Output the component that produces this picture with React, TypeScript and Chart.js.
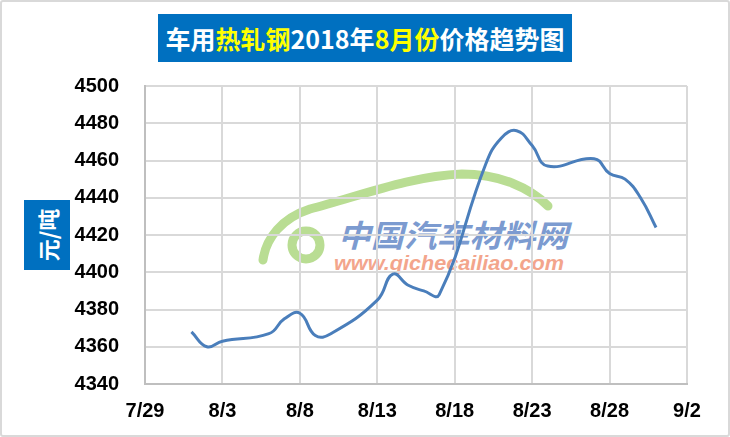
import React, { useEffect, useRef } from "react";
import { Chart, registerables } from "chart.js";

Chart.register(...registerables);

const dates = ["8/1","8/2","8/3","8/6","8/7","8/8","8/9","8/10","8/13","8/14","8/15","8/16","8/17","8/20","8/21","8/22","8/23","8/24","8/27","8/28","8/29","8/30","8/31"];
const prices = [4368,4360,4363,4367,4375,4378,4366,4367,4385,4399,4393,4390,4388,4458,4472,4476,4468,4457,4461,4453,4450,4440,4424];
const yTicks = [4340, 4500, 20];
const xRangeLabels = ["7/29", "9/2"];
const titleParts = [
  { text: "车用", yellow: false },
  { text: "热轧钢", yellow: true },
  { text: "2018年", yellow: false },
  { text: "8月份", yellow: true },
  { text: "价格趋势图", yellow: false },
];
const yAxisTitle = "元/吨";

const BASE = new Date(2018, 6, 29);
const DAY = 86400000;
function toDay(s: string): number {
  const [m, d] = s.split("/").map(Number);
  return Math.round((new Date(2018, m - 1, d).getTime() - BASE.getTime()) / DAY);
}
function fromDay(n: number): string {
  const dt = new Date(BASE.getTime() + n * DAY);
  return `${dt.getMonth() + 1}/${dt.getDate()}`;
}

export default function App() {
  const ref = useRef<HTMLCanvasElement>(null);
  useEffect(() => {
    const prev = document.body.style.margin;
    document.body.style.margin = "0";
    const ctx = ref.current!;
    const tickFont = { family: "'Liberation Sans', Arial, sans-serif", size: 20, weight: "bold" as const };
    const chart = new Chart(ctx, {
      type: "line",
      data: {
        datasets: [
          {
            data: dates.map((d, i) => ({ x: toDay(d), y: prices[i] })),
            borderColor: "#4a7ebb",
            borderWidth: 3,
            pointRadius: 0,
            tension: 0.45,
            fill: false,
          },
        ],
      },
      options: {
        animation: false,
        responsive: false,
        maintainAspectRatio: false,
        layout: { padding: { top: 86, right: 43, left: 0, bottom: 0 } },
        plugins: { legend: { display: false }, tooltip: { enabled: false } },
        scales: {
          x: {
            type: "linear",
            min: toDay(xRangeLabels[0]),
            max: toDay(xRangeLabels[1]),
            afterFit: (s: any) => { s.height = 437 - 384; },
            ticks: { stepSize: 5, callback: (v: any) => fromDay(Number(v)), color: "#000", font: tickFont, padding: 15, maxRotation: 0 },
            grid: { color: "#d9d9d9", lineWidth: 2, drawTicks: false },
            border: { color: "#bfbfbf", width: 2 },
          },
          y: {
            min: yTicks[0],
            max: yTicks[1],
            afterFit: (s: any) => { s.width = 145; },
            ticks: { stepSize: yTicks[2], callback: (v: any) => String(v), color: "#000", font: tickFont, padding: 26 },
            grid: { color: "#d9d9d9", lineWidth: 2, drawTicks: false },
            border: { color: "#bfbfbf", width: 2 },
          },
        },
      },
    });
    return () => { chart.destroy(); document.body.style.margin = prev; };
  }, []);

  return (
    <div style={{ position: "absolute", left: 0, top: 0, width: 730, height: 437, background: "#fff", overflow: "hidden" }}>
      <div style={{ position: "absolute", left: 0, top: 0, width: 726, height: 433, border: "2px solid #d9d9d9", borderRadius: 3 }} />
      <svg width={730} height={437} style={{ position: "absolute", left: 0, top: 0 }}>
        <path d="M263 260 C 266 238, 282 218, 310 209 C 360 196, 410 176, 462 174 C 500 174, 530 188, 548 206" stroke="#b9dd93" strokeWidth={9} fill="none" strokeLinecap="round" />
        <circle cx={306} cy={245} r={14} stroke="#b9dd93" strokeWidth={9} fill="none" />
        <text x={338} y={247} fontFamily="'Noto Sans CJK SC', sans-serif" fontWeight="bold" fontStyle="italic" fontSize={31} fill="#7c9bd0" textLength={230} lengthAdjust="spacingAndGlyphs">中国汽车材料网</text>
        <text x={334} y={270} fontFamily="'Liberation Sans', Arial, sans-serif" fontWeight="bold" fontStyle="italic" fontSize={20} fill="#f3a58c" textLength={230} lengthAdjust="spacingAndGlyphs">www.qichecailiao.com</text>
      </svg>
      <canvas ref={ref} width={730} height={437} style={{ position: "absolute", left: 0, top: 0 }} />
      <div style={{ position: "absolute", left: 158, top: 14, width: 414, height: 48, background: "#0070c0", display: "flex", alignItems: "center", justifyContent: "center", fontFamily: "'Noto Sans CJK SC', sans-serif", fontWeight: "bold", fontSize: 25, color: "#fff", whiteSpace: "nowrap", letterSpacing: 0 }}>
        {titleParts.map((p, i) => (
          <span key={i} style={{ color: p.yellow ? "#ffff00" : "#fff" }}>{p.text}</span>
        ))}
      </div>
      <div style={{ position: "absolute", left: 24, top: 200, width: 46, height: 70, background: "#0070c0", display: "flex", alignItems: "center", justifyContent: "center" }}>
        <div style={{ transform: "rotate(-90deg)", color: "#fff", fontFamily: "'Noto Sans CJK SC', sans-serif", fontWeight: "bold", fontSize: 22, whiteSpace: "nowrap" }}>{yAxisTitle}</div>
      </div>
    </div>
  );
}
